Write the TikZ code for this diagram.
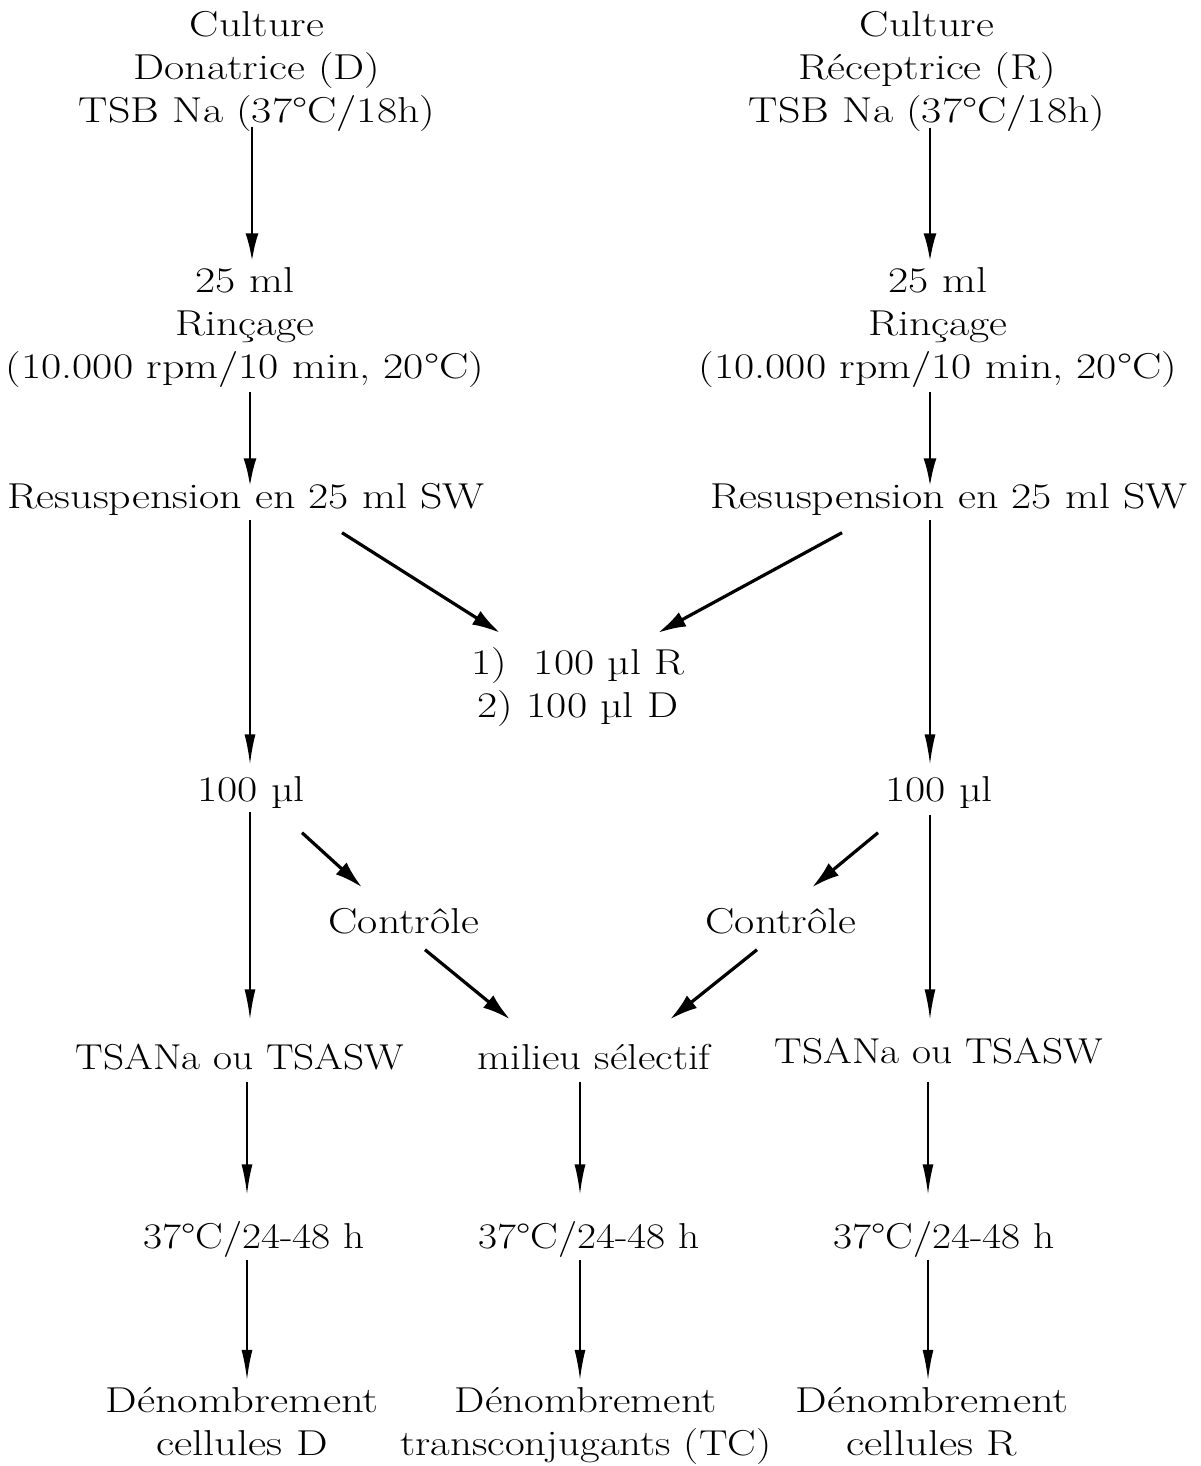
\documentclass[tikz,border=0pt]{standalone}
\usepackage{graphicx}
\usetikzlibrary{arrows.meta,calc}
\newcommand{\tx}[2][1.22]{\scalebox{#1}[1]{\begin{tabular}{@{}c@{}}#2\end{tabular}}}
\begin{document}
\begin{tikzpicture}[x=1pt,y=-1pt,
  lbl/.style={inner sep=0pt, font=\fontsize{36}{43}\selectfont},
  arr/.style={line width=2.8pt, -{Latex[length=28pt,width=13pt]}},
  arrthin/.style={line width=1.7pt, -{Latex[length=30pt,width=11pt]}},
  arrdiag/.style={line width=3.2pt, -{Latex[length=28pt,width=16pt]}}]
\useasboundingbox[fill=white] (0,0) rectangle (1201,1466);
% columns
\coordinate (colLa) at (252,0);
\coordinate (colLb) at (250,0);
\coordinate (colLc) at (247,0);
\coordinate (colRa) at (930,0);
\coordinate (colRb) at (930,0);
\coordinate (colRc) at (928,0);
\coordinate (colM) at (580,0);
% nodes
\node[lbl] (cultD) at (257,71) {\tx{Culture\\Donatrice (D)\\TSB Na (37°C/18h)}};
\node[lbl] (cultR) at (927,71) {\tx{Culture\\Réceptrice (R)\\TSB Na (37°C/18h)}};
\node[lbl] (rinD) at (245,327) {\tx{25 ml\\Rinçage\\(10.000 rpm/10 min, 20°C)}};
\node[lbl] (rinR) at (938,327) {\tx{25 ml\\Rinçage\\(10.000 rpm/10 min, 20°C)}};
\node[lbl] (resD) at (246,500) {\tx{Resuspension en 25 ml SW}};
\node[lbl] (resR) at (949,500) {\tx{Resuspension en 25 ml SW}};
\node[lbl] (mix) at (578,687) {\tx{1)\ \ 100 µl R\\2) 100 µl D}};
\node[lbl] (cD) at (251,793) {\tx{100 µl}};
\node[lbl] (cR) at (939,793) {\tx{100 µl}};
\node[lbl] (ctlD) at (404,925) {\tx{Contrôle}};
\node[lbl] (ctlR) at (781,925) {\tx{Contrôle}};
\node[lbl] (tsaD) at (240,1061) {\tx[1.15]{TSANa ou TSASW}};
\node[lbl] (sel) at (594,1061) {\tx[1.19]{milieu sélectif}};
\node[lbl] (tsaR) at (939,1055) {\tx[1.15]{TSANa ou TSASW}};
\node[lbl] (incD) at (254,1240) {\tx[1.15]{37°C/24-48 h}};
\node[lbl] (incS) at (589,1240) {\tx[1.15]{37°C/24-48 h}};
\node[lbl] (incR) at (944,1240) {\tx[1.15]{37°C/24-48 h}};
\node[lbl] (denD) at (242,1425) {\tx[1.24]{Dénombrement\\cellules D}};
\node[lbl] (denS) at (586,1425) {\tx[1.19]{Dénombrement\\transconjugants (TC)}};
\node[lbl] (denR) at (932,1425) {\tx[1.24]{Dénombrement\\cellules R}};
% vertical arrows, left
\draw[arr] ($(cultD.south -| colLa)+(0,-9)$) -- ($(rinD.north -| colLa)+(0,-1)$);
\draw[arr] ($(rinD.south -| colLb)+(0,0)$) -- ($(resD.north -| colLb)+(0,8)$);
\draw[arrthin] ($(resD.south -| colLb)+(0,-2)$) -- ($(cD.north -| colLb)+(0,-7)$);
\draw[arrthin] ($(cD.south -| colLb)+(0,-3)$) -- ($(tsaD.north -| colLb)+(0,-20)$);
\draw[arrthin] ($(tsaD.south -| colLc)+(0,-1)$) -- ($(incD.north -| colLc)+(0,-24)$);
\draw[arrthin] ($(incD.south -| colLc)+(0,-2)$) -- ($(denD.north -| colLc)+(0,-2)$);
% vertical arrows, right
\draw[arr] ($(cultR.south -| colRa)+(0,-8)$) -- ($(rinR.north -| colRa)+(0,-1)$);
\draw[arr] ($(rinR.south -| colRb)+(0,0)$) -- ($(resR.north -| colRb)+(0,8)$);
\draw[arrthin] ($(resR.south -| colRb)+(0,-2)$) -- ($(cR.north -| colRb)+(0,-7)$);
\draw[arrthin] ($(cR.south -| colRb)+(0,0)$) -- ($(tsaR.north -| colRb)+(0,-14)$);
\draw[arrthin] ($(tsaR.south -| colRc)+(0,5)$) -- ($(incR.north -| colRc)+(0,-24)$);
\draw[arrthin] ($(incR.south -| colRc)+(0,-2)$) -- ($(denR.north -| colRc)+(0,-2)$);
% vertical arrows, middle
\draw[arrthin] ($(sel.south -| colM)+(0,-1)$) -- ($(incS.north -| colM)+(0,-24)$);
\draw[arrthin] ($(incS.south -| colM)+(0,-2)$) -- ($(denS.north -| colM)+(0,-2)$);
% diagonal arrows
\draw[arrdiag] ($(resD.south)+(96,11)$) -- ($(mix.north)+(-78,-11)$);
\draw[arrdiag] ($(resR.south)+(-107,11)$) -- ($(mix.north)+(80,-11)$);
\draw[arrdiag] ($(cD.south)+(51,18)$) -- ($(ctlD.north)+(-42,-16)$);
\draw[arrdiag] ($(cR.south)+(-61,18)$) -- ($(ctlR.north)+(31,-16)$);
\draw[arrdiag] ($(ctlD.south)+(21,3)$) -- ($(sel.north)+(-84,-20)$);
\draw[arrdiag] ($(ctlR.south)+(-24,3)$) -- ($(sel.north)+(76,-20)$);
\end{tikzpicture}
\end{document}
